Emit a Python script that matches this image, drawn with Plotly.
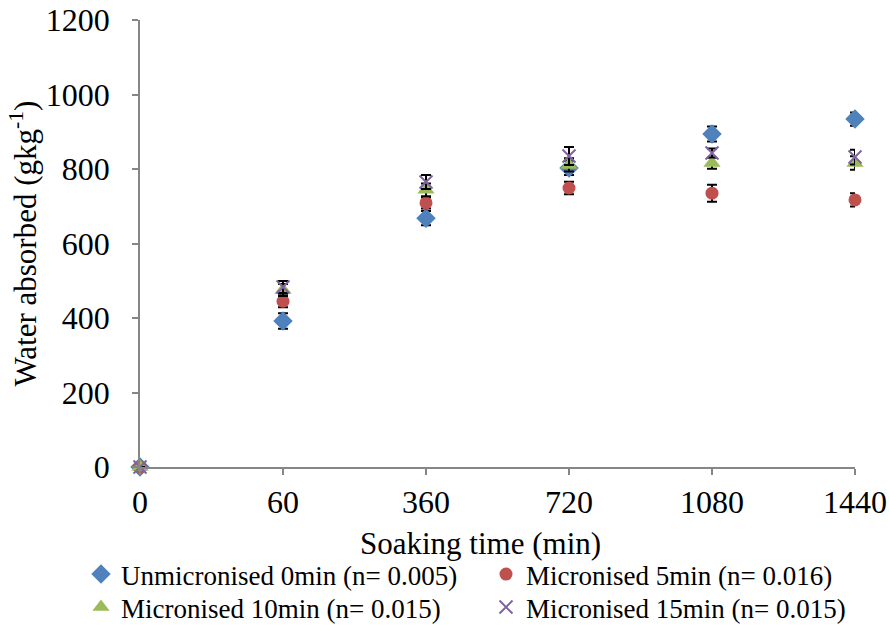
import plotly.graph_objects as go

categories = ["0", "60", "360", "720", "1080", "1440"]

unmic_0 = [0, 392, 668, 803, 894, 934]
unmic_0_err = [0, 21, 19, 19, 20, 18]
mic_5 = [0, 445, 709, 749, 735, 717]
mic_5_err = [0, 16, 15, 17, 23, 18]
mic_10 = [0, 475, 744, 811, 816, 816]
mic_10_err = [0, 16, 17, 18, 15, 18]
mic_15 = [0, 483, 765, 835, 843, 832]
mic_15_err = [0, 16, 19, 24, 12, 20]

series_names = [
    "Unmicronised 0min (n= 0.005)",
    "Micronised 5min (n= 0.016)",
    "Micronised 10min (n= 0.015)",
    "Micronised 15min (n= 0.015)",
]
y_ticks = [0, 200, 400, 600, 800, 1000, 1200]

FONT = "Liberation Serif, Times New Roman, serif"
colors = ["#4F81BD", "#C0504D", "#9BBB59", "#8064A2"]
symbols = ["diamond", "circle", "triangle-up", "x-thin"]
sizes = [15, 13, 15, 13]
legend_ids = ["legend", "legend2", "legend3", "legend4"]

fig = go.Figure()
data = [(unmic_0, unmic_0_err), (mic_5, mic_5_err), (mic_10, mic_10_err), (mic_15, mic_15_err)]
xpos = list(range(len(categories)))
for i, (vals, errs) in enumerate(data):
    marker = dict(symbol=symbols[i], color=colors[i], size=sizes[i])
    if symbols[i] == "x-thin":
        marker["line"] = dict(color=colors[i], width=2)
    fig.add_trace(go.Scatter(
        x=xpos, y=vals, mode="markers", name=series_names[i],
        marker=marker, legend=legend_ids[i],
        error_y=dict(type="data", array=errs, visible=True, color="black",
                     thickness=2, width=5),
        cliponaxis=False,
    ))

axis_col = "#868686"
PL, PT, PW, PH = 140, 20, 715, 447


def leg(px, py):
    return dict(
        orientation="v", x=(px - PL) / PW, y=-(py - (PT + PH)) / PH,
        xanchor="left", yanchor="top",
        font=dict(family=FONT, size=27, color="black"),
        tracegroupgap=0, itemwidth=30, bgcolor="rgba(0,0,0,0)",
    )


fig.update_layout(
    width=889, height=626,
    margin=dict(l=PL, r=889 - PL - PW, t=PT, b=626 - PT - PH, autoexpand=False),
    paper_bgcolor="white", plot_bgcolor="white",
    font=dict(family=FONT, color="black", size=30),
    showlegend=True,
    legend=leg(81, 550),
    legend2=leg(486, 550),
    legend3=leg(81, 583),
    legend4=leg(486, 583),
    xaxis=dict(
        range=[0, len(categories) - 1], automargin=False,
        tickmode="array", tickvals=xpos, ticktext=categories,
        showgrid=False, zeroline=False,
        showline=True, linecolor=axis_col, linewidth=1.5,
        ticks="outside", ticklen=6, tickcolor=axis_col, tickwidth=1.5,
        ticklabelstandoff=0,
        tickfont=dict(family=FONT, size=32, color="black"),
    ),
    yaxis=dict(
        range=[0, 1200], automargin=False,
        tickmode="array", tickvals=y_ticks, ticktext=[str(v) for v in y_ticks],
        showgrid=False, zeroline=False,
        showline=True, linecolor=axis_col, linewidth=1.5,
        ticks="outside", ticklen=6, tickcolor=axis_col, tickwidth=1.5,
        ticklabelstandoff=16,
        tickfont=dict(family=FONT, size=32, color="black"),
        title=dict(text="Water absorbed (gkg<sup>-1</sup>)",
                   font=dict(family=FONT, size=31, color="black"), standoff=0),
    ),
    annotations=[dict(
        text="Soaking time (min)", xref="paper", yref="paper",
        x=(480 - PL) / PW, y=-(543 - (PT + PH)) / PH,
        xanchor="center", yanchor="middle", showarrow=False,
        font=dict(family=FONT, size=31, color="black"),
    )],
)

fig.write_html("out.html")
